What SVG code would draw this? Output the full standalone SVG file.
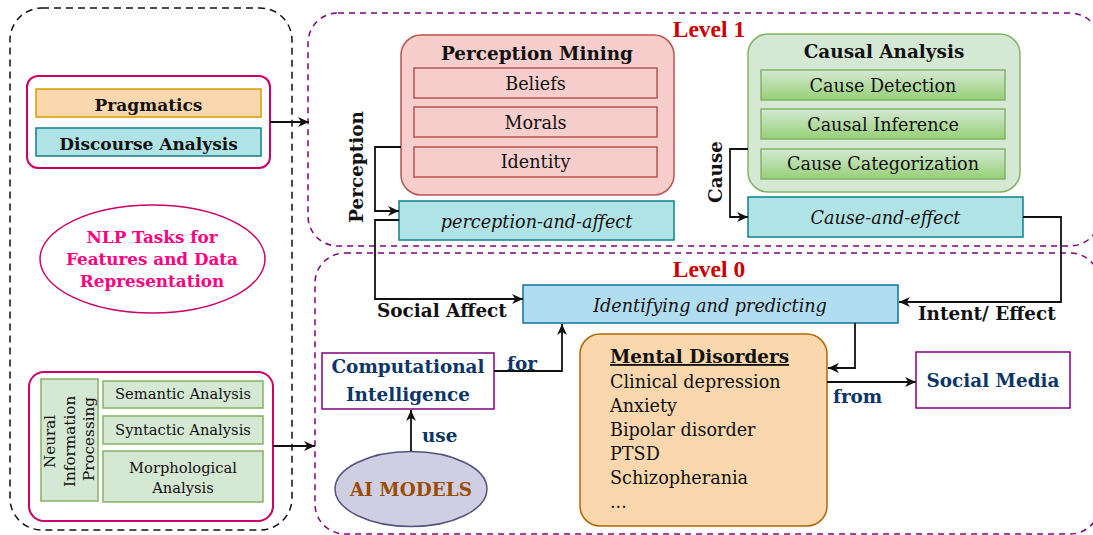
<svg xmlns="http://www.w3.org/2000/svg" width="1093" height="535" viewBox="0 0 1093 535">
<style>
text{font-family:"DejaVu Serif","Liberation Serif",serif;fill:#111}
.b{font-weight:bold}
.it{font-style:italic}
.c{text-anchor:middle}
.t{font-size:17.6px}
.s{font-size:14.7px}
.h{font-size:18.4px;font-weight:bold}
.lvl{font-family:"Liberation Serif",serif;font-size:23.5px;font-weight:bold;fill:#cc0000;text-anchor:middle}
.navy{fill:#0d3568;font-weight:bold;font-size:18.4px}
.pdash{fill:none;stroke:#800080;stroke-width:1.5;stroke-dasharray:6 5}
.kdash{fill:none;stroke:#111;stroke-width:1.5;stroke-dasharray:7 5}
.pinkc{fill:#fff;stroke:#cc0066;stroke-width:2}
.red{fill:#f8cecc;stroke:#b85450;stroke-width:1.5}
.grn{fill:#d5e8d4;stroke:#82b366;stroke-width:1.5}
.ggr{fill:url(#gg);stroke:#82b366;stroke-width:1.5}
.teal{fill:#b0e3e6;stroke:#0e8088;stroke-width:1.5}
.blue{fill:#b1ddf0;stroke:#10739e;stroke-width:1.5}
.purp{fill:#fff;stroke:#800080;stroke-width:1.5}
.conn path{fill:none;stroke:#111;stroke-width:1.8;marker-end:url(#arr)}
</style>
<defs>
<linearGradient id="gg" x1="0" y1="0" x2="0" y2="1">
<stop offset="0" stop-color="#d5e8d4"/>
<stop offset="1" stop-color="#97d077"/>
</linearGradient>
<marker id="arr" viewBox="0 0 10 10" refX="10" refY="5" markerWidth="11" markerHeight="11" markerUnits="userSpaceOnUse" orient="auto">
<path d="M0,0.5 L10,5 L0,9.5 L3,5 Z" fill="#111"/>
</marker>
</defs>

<g id="left-panel">
<rect x="10" y="8" width="282" height="522" rx="32" class="kdash"/>
</g>

<g id="level1">
<rect x="308" y="13" width="792" height="233" rx="30" class="pdash"/>
<text x="709" y="37" class="lvl">Level 1</text>
</g>

<g id="level0">
<rect x="315" y="253" width="785" height="281" rx="30" class="pdash"/>
<text x="709" y="277" class="lvl">Level 0</text>
</g>

<g id="pragmatics-group">
<rect x="27" y="76" width="243" height="92" rx="11" class="pinkc"/>
<rect x="36" y="89" width="225" height="28" fill="#fad7ac" stroke="#d79b00" stroke-width="1.5"/>
<text x="148.5" y="111" class="b c" font-size="17">Pragmatics</text>
<rect x="36" y="128" width="225" height="28" class="teal"/>
<text x="148.5" y="150" class="b c" font-size="17">Discourse Analysis</text>
</g>

<g id="nlp-tasks">
<ellipse cx="152.5" cy="259" rx="112.5" ry="54" fill="#fff" stroke="#cc0066" stroke-width="1.5"/>
<text x="152" y="243" class="b c" font-size="16.8" style="fill:#ff0080">NLP Tasks for</text>
<text x="152" y="265" class="b c" font-size="16.8" style="fill:#ff0080">Features and Data</text>
<text x="152" y="287" class="b c" font-size="16.8" style="fill:#ff0080">Representation</text>
</g>

<g id="neural-group">
<rect x="29" y="372" width="244" height="149" rx="15" class="pinkc"/>
<rect x="41" y="379" width="57" height="122" class="grn"/>
<text transform="translate(70,439) rotate(-90)" class="c" font-size="15.2">
<tspan x="0" y="-15">Neural</tspan>
<tspan x="0" y="5">Information</tspan>
<tspan x="0" y="24">Processing</tspan>
</text>
<rect x="103" y="381" width="160" height="27" class="grn"/>
<text x="183" y="399" class="c s">Semantic Analysis</text>
<rect x="103" y="416" width="160" height="28" class="grn"/>
<text x="183" y="435" class="c s">Syntactic Analysis</text>
<rect x="103" y="451" width="160" height="51" class="grn"/>
<text x="183" y="473" class="c s">Morphological</text>
<text x="183" y="493" class="c s">Analysis</text>
</g>

<g id="perception-mining">
<rect x="401" y="35" width="273" height="160" rx="20" class="red"/>
<text x="537" y="60" class="h c">Perception Mining</text>
<rect x="414" y="68" width="243" height="30" class="red"/>
<text x="535.5" y="90" class="t c">Beliefs</text>
<rect x="414" y="107" width="243" height="30" class="red"/>
<text x="535.5" y="129" class="t c">Morals</text>
<rect x="414" y="147" width="243" height="30" class="red"/>
<text x="535.5" y="168" class="t c">Identity</text>
</g>

<g id="perception-and-affect">
<rect x="399" y="201" width="275" height="39" class="teal"/>
<text x="536.5" y="228" class="t c it">perception-and-affect</text>
</g>

<g id="causal-analysis">
<rect x="748" y="34" width="272" height="158" rx="20" class="grn"/>
<text x="884" y="58" class="h c">Causal Analysis</text>
<rect x="761" y="70" width="244" height="30" class="ggr"/>
<text x="883" y="92" class="t c">Cause Detection</text>
<rect x="761" y="109" width="244" height="30" class="ggr"/>
<text x="883" y="131" class="t c">Causal Inference</text>
<rect x="761" y="149" width="244" height="30" class="ggr"/>
<text x="883" y="170" class="t c">Cause Categorization</text>
</g>

<g id="cause-and-effect">
<rect x="748" y="197" width="275" height="40" class="teal"/>
<text x="885.5" y="224" class="t c it">Cause-and-effect</text>
</g>

<g id="identifying">
<rect x="523" y="285" width="375" height="38" class="blue"/>
<text x="710" y="312" class="t c it">Identifying and predicting</text>
</g>

<g id="computational-intelligence">
<rect x="322" y="353" width="172" height="56" class="purp"/>
<text x="408" y="373" class="navy c">Computational</text>
<text x="408" y="401" class="navy c">Intelligence</text>
</g>

<g id="ai-models">
<ellipse cx="411" cy="489" rx="76" ry="37.5" fill="#d0cee2" stroke="#56517e" stroke-width="1.5"/>
<text x="411" y="496" class="h c" style="fill:#994c00">AI MODELS</text>
</g>

<g id="mental-disorders">
<rect x="580" y="334" width="247" height="192" rx="20" fill="#fad7ac" stroke="#b46504" stroke-width="1.5"/>
<text x="610" y="363" class="h" text-decoration="underline">Mental Disorders</text>
<text x="610" y="388" class="t">Clinical depression</text>
<text x="610" y="412" class="t">Anxiety</text>
<text x="610" y="436" class="t">Bipolar disorder</text>
<text x="610" y="460" class="t">PTSD</text>
<text x="610" y="484" class="t">Schizopherania</text>
<text x="610" y="508" class="t">...</text>
</g>

<g id="social-media">
<rect x="916" y="352" width="154" height="56" class="purp"/>
<text x="993" y="387" class="navy c">Social Media</text>
</g>

<g id="connectors" class="conn">
<path d="M270,122 L309,122"/>
<path d="M273,446 L315,446"/>
<path d="M401,147 L375,147 L375,211 L399,211"/>
<path d="M399,220 L375,220 L375,299 L523,299"/>
<path d="M748,149 L730,149 L730,217 L748,217"/>
<path d="M1023,217 L1061,217 L1061,302 L899,302"/>
<path d="M494,371 L562,371 L562,324"/>
<path d="M411,451 L411,410"/>
<path d="M855,323 L855,368 L828,368"/>
<path d="M827,382 L916,382"/>
</g>

<g id="labels">
<text transform="translate(363,167) rotate(-90)" class="h c">Perception</text>
<text transform="translate(722,172) rotate(-90)" class="h c">Cause</text>
<text x="377" y="317" class="h">Social Affect</text>
<text x="918" y="320" class="h">Intent/ Effect</text>
<text x="507" y="370" class="navy">for</text>
<text x="422" y="442" class="navy">use</text>
<text x="833" y="403" class="navy">from</text>
</g>
</svg>
